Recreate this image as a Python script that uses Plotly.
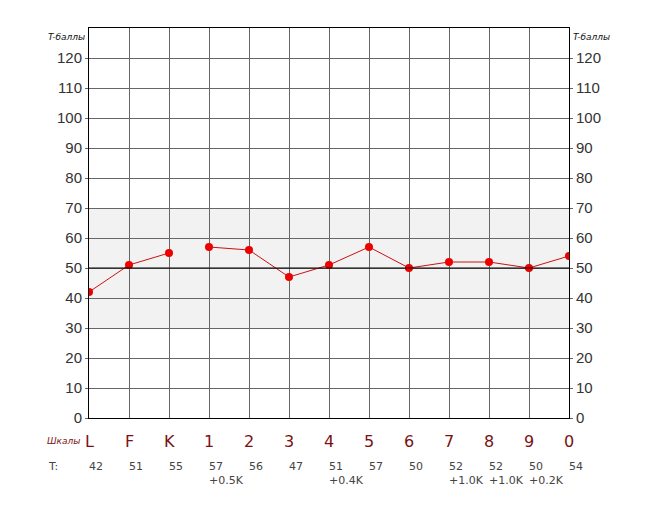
import plotly.graph_objects as go

scales = ["L", "F", "K", "1", "2", "3", "4", "5", "6", "7", "8", "9", "0"]
t_values = [42, 51, 55, 57, 56, 47, 51, 57, 50, 52, 52, 50, 54]
corrections = ["", "", "", "+0.5K", "", "", "+0.4K", "", "", "+1.0K", "+1.0K", "+0.2K", ""]
y_ticks = list(range(0, 130, 10))
band_low, band_high, mid_line = 30, 70, 50

FONT = "DejaVu Sans"
TICK_FONT = "Liberation Sans"
x_idx = list(range(len(scales)))
n_last = len(scales) - 1

fig = go.Figure()

# validity scales segment (L, F, K) and clinical scales segment (1..0)
for seg in (x_idx[:3], x_idx[3:]):
    fig.add_trace(go.Scatter(
        x=seg, y=[t_values[i] for i in seg], mode="lines+markers",
        line=dict(color="#cc1111", width=1),
        marker=dict(color="#ee0000", size=8),
        showlegend=False, hoverinfo="skip"))

# invisible trace on right axis
fig.add_trace(go.Scatter(x=[0], y=[0], yaxis="y2", mode="markers",
                         marker=dict(opacity=0), showlegend=False, hoverinfo="skip"))

fig.add_shape(type="rect", xref="x", yref="y", x0=0, x1=n_last,
              y0=band_low, y1=band_high, fillcolor="#f2f2f2", line=dict(width=0), layer="below")
fig.add_shape(type="line", xref="x", yref="y", x0=0, x1=n_last,
              y0=mid_line, y1=mid_line, line=dict(color="#000000", width=1), layer="above")

annotations = []
for i, s in enumerate(scales):
    px = i / n_last
    annotations.append(dict(x=px, y=-0.059, xref="paper", yref="paper", text=s, showarrow=False,
                            font=dict(family=FONT, size=16, color="#7a1212"),
                            xanchor="center", yanchor="middle"))
    annotations.append(dict(x=px, y=-0.1256, xref="paper", yref="paper", text=str(t_values[i]),
                            showarrow=False, font=dict(family=FONT, size=11, color="#444444"),
                            xanchor="left", yanchor="middle", xshift=-2))
    if corrections[i]:
        annotations.append(dict(x=px, y=-0.1615, xref="paper", yref="paper", text=corrections[i],
                                showarrow=False, font=dict(family=FONT, size=11, color="#444444"),
                                xanchor="left", yanchor="middle", xshift=-2))
annotations.append(dict(x=-0.014, y=-0.059, xref="paper", yref="paper", text="<i>Шкалы</i>",
                        showarrow=False, font=dict(family=FONT, size=9, color="#7a1212"),
                        xanchor="right", yanchor="middle"))
annotations.append(dict(x=-0.075, y=-0.1256, xref="paper", yref="paper", text="T:",
                        showarrow=False, font=dict(family=FONT, size=11, color="#444444"),
                        xanchor="center", yanchor="middle"))
annotations.append(dict(x=-0.004, y=0.977, xref="paper", yref="paper", text="<i>T-баллы</i>",
                        showarrow=False, font=dict(family=FONT, size=9, color="#111111"),
                        xanchor="right", yanchor="middle"))
annotations.append(dict(x=1.004, y=0.977, xref="paper", yref="paper", text="<i>T-баллы</i>",
                        showarrow=False, font=dict(family=FONT, size=9, color="#111111"),
                        xanchor="left", yanchor="middle"))

axis_common = dict(range=[0, 130], tickvals=y_ticks, showgrid=True, gridcolor="#666666",
                   gridwidth=1, zeroline=False, ticks="outside", ticklen=3, tickcolor="#666666",
                   tickfont=dict(family=TICK_FONT, size=15, color="#333333"), fixedrange=True,
                   automargin=False)

fig.update_layout(
    width=661, height=510,
    margin=dict(l=81, r=100, t=20, b=100, autoexpand=False),
    paper_bgcolor="white", plot_bgcolor="white",
    xaxis=dict(range=[0, n_last], tickvals=x_idx, showticklabels=False,
               showgrid=True, gridcolor="#666666", gridwidth=1, zeroline=False,
               showline=True, linecolor="#000000", linewidth=1, mirror=True, ticks="",
               automargin=False),
    yaxis=dict(**axis_common, side="left", showline=True, linecolor="#000000", linewidth=1,
               mirror=True),
    yaxis2=dict(**axis_common, side="right", overlaying="y", showline=False),
    annotations=annotations,
)

fig.write_html("out.html")
